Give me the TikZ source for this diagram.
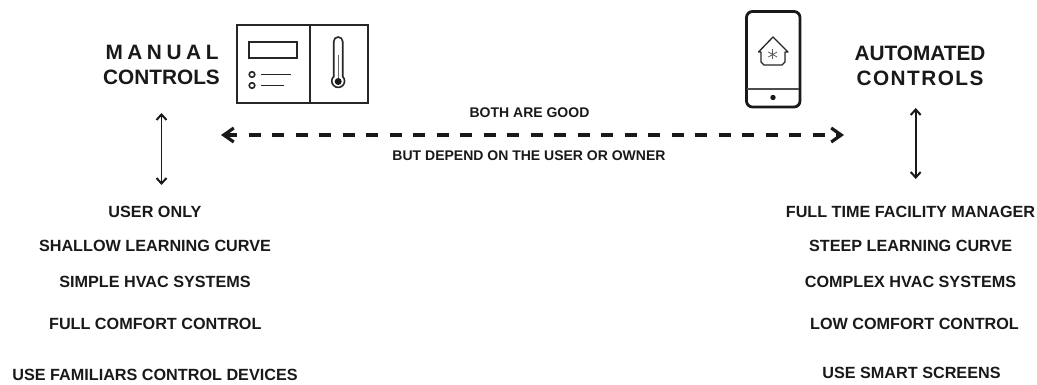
\documentclass[tikz,border=0pt]{standalone}
\usepackage{fontspec}
\setmainfont{Liberation Sans}
\usetikzlibrary{arrows.meta}
\tikzset{
  x=1pt,y=-1pt,
  lab/.style={font=\bfseries\fontsize{16.2}{18}\selectfont,text=black!90,inner sep=0pt,anchor=center},
  labm/.style={font=\bfseries\fontsize{14}{16}\selectfont,text=black!90,inner sep=0pt,anchor=center},
  head/.style={font=\bfseries\fontsize{20.8}{23}\selectfont,text=black!90,inner sep=0pt,anchor=center},
  icon/.style={draw=black!85,line width=1.6pt},
  vert/.style={draw=black!90,line width=1.7pt,{Straight Barb[length=5.5pt,width=10pt,line width=2pt]}-{Straight Barb[length=5.5pt,width=10pt,line width=2pt]}},
  dash arrow/.style={draw=black!90,line width=3.2pt,dash pattern=on 12pt off 11.5pt,{Straight Barb[length=10pt,width=14pt,line width=3.2pt]}-{Straight Barb[length=10pt,width=14pt,line width=3.2pt]}}
}
\begin{document}
\begin{tikzpicture}
\useasboundingbox (0,0) rectangle (1037,385);
% headings
\node[head] (m1) at (162,52) {\addfontfeature{LetterSpace=22}MANUAL};
\node[head] (m2) at (161.5,77.5) {CONTROLS};
\node[head] (a1) at (920,53) {AUTOMATED};
\node[head] (a2) at (920,78.5) {\addfontfeature{LetterSpace=7}CONTROLS};
% thermostat icon
\draw[icon] (237,25) rectangle (368,103);
\draw[icon] (310,25) -- (310,103);
\draw[icon] (249,42) rectangle (297,58);
\draw[icon] (252,74.5) circle (2.8);
\draw[icon] (252,85.5) circle (2.8);
\draw[icon] (261,74.5) -- (291,74.5);
\draw[icon] (261,85.5) -- (284,85.5);
\draw[icon] (333.7,76.5) -- (333.7,41.5) arc[start angle=180,end angle=360,radius=4.5] -- (342.7,76.5) arc[start angle=-45,end angle=225,radius=6.4] -- cycle;
\draw[draw=black!60,line width=1pt] (338.2,55) -- (338.2,78);
\fill[black!90] (338.2,81.5) circle (3.5);
% phone icon
\draw[draw=black!90,line width=2.8pt,rounded corners=6pt] (746.5,11.5) rectangle (800,107);
\draw[draw=black!70,line width=1.2pt] (747,89) -- (799,89);
\fill[black!90] (773,97.5) circle (2.7);
\draw[draw=black!85,line width=1.3pt,line join=round] (758.5,52) -- (773,37) -- (788,52) -- (785,52) -- (785,62) -- (782,65) -- (764,65) -- (761,62) -- (761,52) -- cycle;
\foreach \a in {30,90,150}{\draw[draw=black!65,line width=.8pt] (772.7,54.5) ++(\a:5) -- ++(\a+180:10);}
% arrows
\coordinate (dl) at (221,135);
\coordinate (dr) at (844,135);
\draw[dash arrow] (dl) -- (dr);
\coordinate (vla) at (161.5,113);
\coordinate (vlb) at (161.5,185);
\coordinate (vra) at (915.7,108);
\coordinate (vrb) at (915.7,179);
\draw[vert] (vla) -- (vlb);
\draw[vert] (vra) -- (vrb);
% middle text
\node[labm] (t1) at (529.5,113) {BOTH ARE GOOD};
\node[labm] (t2) at (529,156) {BUT DEPEND ON THE USER OR OWNER};
% left list
\node[lab] (l1) at (155,212) {USER ONLY};
\node[lab] (l2) at (155,246) {SHALLOW LEARNING CURVE};
\node[lab] (l3) at (155,282) {SIMPLE HVAC SYSTEMS};
\node[lab] (l4) at (155.3,324) {FULL COMFORT CONTROL};
\node[lab] (l5) at (155,375) {USE FAMILIARS CONTROL DEVICES};
% right list
\node[lab] (r1) at (910.5,212) {FULL TIME FACILITY MANAGER};
\node[lab] (r2) at (910.7,246) {STEEP LEARNING CURVE};
\node[lab] (r3) at (910.5,282) {COMPLEX HVAC SYSTEMS};
\node[lab] (r4) at (914.5,324) {LOW COMFORT CONTROL};
\node[lab] (r5) at (911.5,373) {USE SMART SCREENS};
\end{tikzpicture}
\end{document}
